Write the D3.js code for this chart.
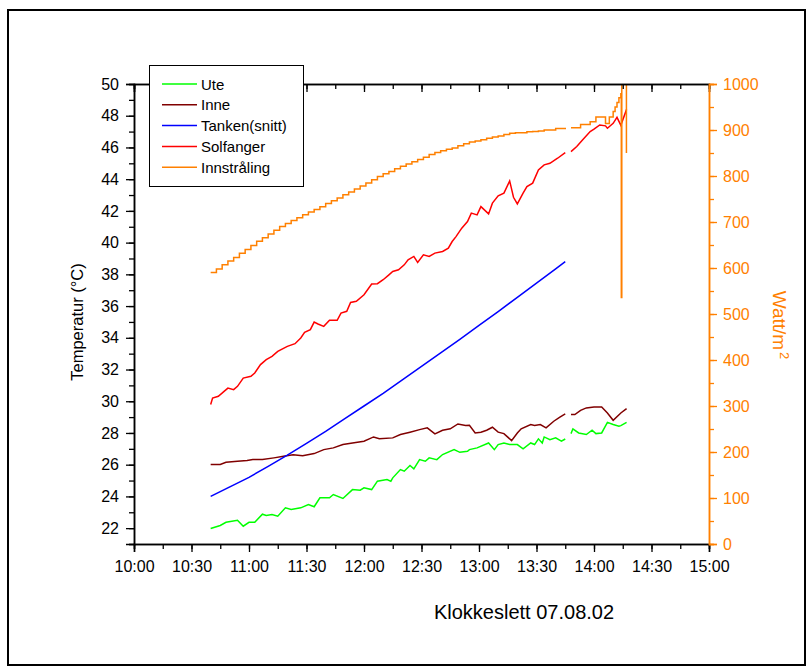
<!DOCTYPE html>
<html>
<head>
<meta charset="utf-8">
<script src="https://cdn.jsdelivr.net/npm/d3@7"></script>
<style>
  body { margin: 0; background: #fff; }
  svg { display: block; font-family: "Liberation Sans", Arial, sans-serif; }
</style>
</head>
<body>
<div id="chart"></div>
<script>
// tick labels
var timeTicks = ["10:00","10:30","11:00","11:30","12:00","12:30","13:00","13:30","14:00","14:30","15:00"];
var tempTicks = [22,24,26,28,30,32,34,36,38,40,42,44,46,48,50];
var wattTicks = [0,100,200,300,400,500,600,700,800,900,1000];
var seriesNames = ["Ute","Inne","Tanken(snitt)","Solfanger","Innstråling"];

// series, [time, value]; null = gap in the logging
var ute = [["10:40",21.98],["10:45",22.17],["10:48",22.37],["10:54",22.5],["10:57",22.12],["11:00",22.37],["11:03",22.37],
  ["11:07",22.88],["11:09",22.8],["11:12",22.86],["11:15",22.75],["11:19",23.28],["11:22",23.17],["11:27",23.28],
  ["11:31",23.49],["11:34",23.35],["11:37",23.91],["11:42",23.91],["11:44",24.12],["11:49",23.87],["11:54",24.43],
  ["11:58",24.39],["12:00",24.54],["12:04",24.43],["12:07",24.96],["12:12",25.06],["12:14",24.96],["12:15",25.17],
  ["12:19",25.69],["12:21",25.59],["12:24",25.95],["12:26",25.74],["12:29",26.32],["12:32",26.22],["12:34",26.43],
  ["12:38",26.32],["12:41",26.64],["12:47",26.95],["12:50",26.78],["12:54",26.85],["12:55",26.95],["12:59",27.06],
  ["13:05",27.37],["13:08",26.95],["13:10",27.27],["13:13",27.37],["13:16",27.27],["13:20",27.27],["13:23",27.0],
  ["13:27",27.37],["13:29",27.27],["13:31",27.63],["13:33",27.37],["13:34",27.75],["13:37",27.58],["13:40",27.69],
  ["13:43",27.48],["13:45",27.62],["13:46",null],["13:48",27.96],["13:49",28.26],["13:52",28.0],["13:56",27.9],
  ["13:59",28.17],["14:01",27.96],["14:04",28.0],["14:07",28.67],["14:10",28.53],["14:13",28.42],["14:14",28.46],
  ["14:17",28.67]];

var inne = [["10:40",26.01],["10:45",26.01],["10:48",26.15],["10:54",26.22],["10:59",26.26],["11:02",26.32],["11:07",26.32],
  ["11:13",26.43],["11:18",26.53],["11:23",26.62],["11:28",26.57],["11:34",26.7],["11:39",26.95],["11:44",27.06],
  ["11:49",27.27],["11:54",27.37],["12:00",27.48],["12:05",27.75],["12:08",27.63],["12:15",27.69],["12:19",27.9],
  ["12:24",28.05],["12:29",28.21],["12:33",28.32],["12:37",27.94],["12:41",28.17],["12:45",28.26],["12:49",28.57],
  ["12:53",28.47],["12:55",28.49],["12:58",28.0],["13:01",28.05],["13:04",28.17],["13:07",28.36],["13:10",28.05],
  ["13:13",27.96],["13:17",27.52],["13:20",28.0],["13:22",28.26],["13:27",28.53],["13:29",28.47],["13:32",28.53],
  ["13:35",28.32],["13:39",28.74],["13:42",28.99],["13:45",29.2],["13:46",null],["13:48",29.16],["13:50",29.16],
  ["13:53",29.43],["13:56",29.58],["14:00",29.64],["14:04",29.64],["14:07",29.26],["14:10",28.8],["14:14",29.26],
  ["14:17",29.53]];

var tanken = [["10:40",24.0],["10:50",24.6],["11:00",25.2],["11:10",25.9],["11:20",26.6],["11:30",27.35],["11:40",28.1],
  ["11:50",28.9],["12:00",29.7],["12:10",30.5],["12:20",31.35],["12:30",32.2],["12:40",33.05],["12:50",33.9],
  ["13:00",34.78],["13:10",35.65],["13:20",36.55],["13:30",37.45],["13:40",38.35],["13:45",38.8]];

var solfanger = [["10:40",29.79],["10:41",30.2],["10:44",30.31],["10:47",30.62],["10:49",30.83],["10:52",30.73],["10:54",30.94],
  ["10:57",31.46],["11:01",31.57],["11:03",31.78],["11:06",32.31],["11:09",32.62],["11:12",32.83],["11:15",33.14],
  ["11:20",33.46],["11:24",33.63],["11:27",33.99],["11:29",34.34],["11:32",34.51],["11:34",34.99],["11:36",34.87],
  ["11:39",34.72],["11:42",35.1],["11:46",35.1],["11:48",35.56],["11:51",35.67],["11:53",36.23],["11:56",36.3],
  ["12:00",36.71],["12:04",37.39],["12:07",37.41],["12:10",37.66],["12:13",37.97],["12:15",38.18],["12:18",38.29],
  ["12:21",38.6],["12:23",38.92],["12:26",39.13],["12:28",38.75],["12:31",39.23],["12:34",39.13],["12:37",39.34],
  ["12:41",39.44],["12:44",39.65],["12:46",40.07],["12:48",40.38],["12:51",40.91],["12:54",41.33],["12:56",41.86],
  ["12:59",41.75],["13:01",42.27],["13:05",41.81],["13:07",42.49],["13:10",42.95],["13:13",43.12],["13:16",43.89],
  ["13:18",42.86],["13:20",42.44],["13:23",43.12],["13:25",43.53],["13:28",43.75],["13:31",44.58],["13:34",44.9],
  ["13:37",45.0],["13:41",45.32],["13:45",45.68],["13:46",null],["13:48",45.74],["13:51",46.06],["13:54",46.47],
  ["13:58",47.0],["14:00",47.15],["14:03",47.42],["14:06",47.36],["14:07",47.21],["14:10",47.52],["14:12",47.9],
  ["14:14",47.4],["14:17",48.4]];

var innstraling = [["10:40",590],["10:43",598],["10:46",607],["10:49",615],["10:52",623],["10:55",632],["10:58",640],
  ["11:01",649],["11:04",658],["11:07",666],["11:10",674],["11:13",682],["11:16",690],["11:19",697],["11:22",703],
  ["11:25",709],["11:28",716],["11:31",722],["11:34",727],["11:37",733],["11:40",740],["11:43",746],["11:46",752],
  ["11:49",759],["11:52",765],["11:55",772],["11:58",778],["12:01",785],["12:04",792],["12:07",799],["12:10",805],
  ["12:13",810],["12:16",816],["12:19",821],["12:22",826],["12:25",831],["12:28",836],["12:31",841],["12:34",847],
  ["12:37",851],["12:40",855],["12:43",858],["12:46",861],["12:49",866],["12:52",870],["12:55",874],["12:58",876],
  ["13:01",879],["13:04",882],["13:07",885],["13:10",887],["13:13",890],["13:16",893],["13:19",894],["13:25",896],
  ["13:28",897],["13:31",898],["13:34",900],["13:40",903],["13:45",905],["13:46",null],["13:48",905],["13:53",912],
  ["13:58",918],["14:01",928],["14:06",914],["14:08",928],["14:10",940],["14:11",950],["14:12",960],["14:13",970],
  ["14:14:00",979],["14:14:15",536],["14:14:30",1050],["14:16:45",1050],["14:16:55",850]];

var colors = ["#00ff00","#800000","#0000ff","#ff0000","#ff8000"];
var orange = "#ff8000";

var parseHM = d3.timeParse("%H:%M"), parseHMS = d3.timeParse("%H:%M:%S");
function parse(s) { return s.length > 5 ? parseHMS(s) : parseHM(s); }

var W = 807, H = 670;
var pLeft = 134, pRight = 709, pTop = 84, pBottom = 544;

var svg = d3.select("#chart").append("svg")
  .attr("width", W).attr("height", H);

// outer frame
svg.append("rect")
  .attr("x", 8).attr("y", 10).attr("width", 797).attr("height", 655)
  .attr("fill", "none").attr("stroke", "#000").attr("stroke-width", 2);

var x = d3.scaleTime().domain([parse("10:00"), parse("15:00")]).range([pLeft, pRight]);
var yT = d3.scaleLinear().domain([21, 50]).range([pBottom, pTop]);
var yW = d3.scaleLinear().domain([0, 1000]).range([pBottom, pTop]);

svg.append("clipPath").attr("id", "plot")
  .append("rect").attr("x", pLeft).attr("y", pTop).attr("width", pRight - pLeft).attr("height", pBottom - pTop);

// lines
var tempSeries = [ute, inne, tanken, solfanger];
var g = svg.append("g").attr("clip-path", "url(#plot)");

tempSeries.forEach(function(s, i) {
  var line = d3.line()
    .defined(function(d) { return d[1] != null; })
    .x(function(d) { return x(parse(d[0])); })
    .y(function(d) { return yT(d[1]); });
  g.append("path").datum(s)
    .attr("d", line)
    .attr("fill", "none")
    .attr("stroke", colors[i])
    .attr("stroke-width", 1.5);
});

var wline = d3.line()
  .defined(function(d) { return d[1] != null; })
  .curve(d3.curveStepAfter)
  .x(function(d) { return x(parse(d[0])); })
  .y(function(d) { return yW(d[1]); });
g.append("path").datum(innstraling)
  .attr("d", wline)
  .attr("fill", "none")
  .attr("stroke", colors[4])
  .attr("stroke-width", 1.5);

// axes
var majorTimes = timeTicks.map(parse);
var minorTimes = d3.range(0, 21).map(function(i) { return d3.timeMinute.offset(parse("10:00"), i * 15); });

function styleAxis(sel, col) {
  sel.selectAll(".domain").attr("stroke", col).attr("stroke-width", 1.5);
  sel.selectAll(".tick line").attr("stroke", col).attr("stroke-width", 1.3);
  sel.selectAll(".tick text").attr("fill", col).style("font-size", "16px")
    .style("font-family", "'Liberation Sans', Arial, sans-serif");
}

// bottom
svg.append("g").attr("transform", "translate(0," + pBottom + ")")
  .call(d3.axisBottom(x).tickValues(minorTimes).tickSize(5).tickFormat(""))
  .call(styleAxis, "#000");
svg.append("g").attr("transform", "translate(0," + pBottom + ")")
  .call(d3.axisBottom(x).tickValues(majorTimes).tickSize(8).tickPadding(9).tickFormat(d3.timeFormat("%H:%M")))
  .call(styleAxis, "#000");

// top (ticks inside)
svg.append("g").attr("transform", "translate(0," + pTop + ")")
  .call(d3.axisBottom(x).tickValues(minorTimes).tickSize(5).tickFormat(""))
  .call(styleAxis, "#000");
svg.append("g").attr("transform", "translate(0," + pTop + ")")
  .call(d3.axisBottom(x).tickValues(majorTimes).tickSize(8).tickFormat(""))
  .call(styleAxis, "#000");

// left
svg.append("g").attr("transform", "translate(" + pLeft + ",0)")
  .call(d3.axisLeft(yT).tickValues(d3.range(21, 51)).tickSize(5).tickFormat(""))
  .call(styleAxis, "#000");
svg.append("g").attr("transform", "translate(" + pLeft + ",0)")
  .call(d3.axisLeft(yT).tickValues(tempTicks).tickSize(8).tickPadding(7).tickFormat(d3.format("d")))
  .call(styleAxis, "#000");

// right
svg.append("g").attr("transform", "translate(" + pRight + ",0)")
  .call(d3.axisRight(yW).tickValues(d3.range(0, 1001, 50)).tickSize(5).tickFormat(""))
  .call(styleAxis, orange);
svg.append("g").attr("transform", "translate(" + pRight + ",0)")
  .call(d3.axisRight(yW).tickValues(wattTicks).tickSize(8).tickPadding(6).tickFormat(d3.format("d")))
  .call(styleAxis, orange);

// axis titles
svg.append("text")
  .attr("x", 524).attr("y", 619)
  .attr("text-anchor", "middle")
  .style("font-size", "20px")
  .text("Klokkeslett 07.08.02");

svg.append("text")
  .attr("transform", "translate(83,322) rotate(-90)")
  .attr("text-anchor", "middle")
  .style("font-size", "16.5px")
  .text("Temperatur (°C)");

var wt = svg.append("text")
  .attr("transform", "translate(773,325) rotate(90)")
  .attr("text-anchor", "middle")
  .attr("fill", orange)
  .style("font-size", "19px");
wt.append("tspan").text("Watt/m");
wt.append("tspan").attr("dx", 2).attr("dy", -7).style("font-size", "13px").text("2");

// legend
var lg = svg.append("g");
lg.append("rect")
  .attr("x", 149.5).attr("y", 65.5).attr("width", 154).attr("height", 121)
  .attr("fill", "#fff").attr("stroke", "#000").attr("stroke-width", 1);
seriesNames.forEach(function(n, i) {
  var yy = 84 + i * 20.8;
  lg.append("line")
    .attr("x1", 162).attr("x2", 197).attr("y1", yy).attr("y2", yy)
    .attr("stroke", colors[i]).attr("stroke-width", 1.5);
  lg.append("text")
    .attr("x", 201).attr("y", yy + 5.5)
    .style("font-size", "15px")
    .text(n);
});
</script>
</body>
</html>
